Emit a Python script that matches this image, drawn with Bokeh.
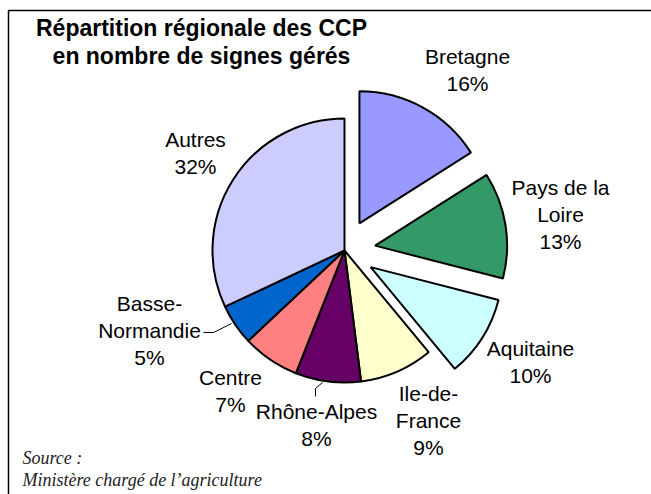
import math
from bokeh.plotting import figure
from bokeh.models import Range1d, ColumnDataSource
from bokeh.core.properties import value
from bokeh.embed import file_html
from bokeh.resources import INLINE

# ---- data ----
regions = ["Bretagne", "Pays de la Loire", "Aquitaine", "Ile-de-France",
           "Rhône-Alpes", "Centre", "Basse-Normandie", "Autres"]
shares = [16, 13, 10, 9, 8, 7, 5, 32]
label_lines = [["Bretagne", "16%"], ["Pays de la", "Loire", "13%"], ["Aquitaine", "10%"],
               ["Ile-de-", "France", "9%"], ["Rhône-Alpes", "8%"], ["Centre", "7%"],
               ["Basse-", "Normandie", "5%"], ["Autres", "32%"]]
title_lines = ["Répartition régionale des CCP", "en nombre de signes gérés"]
source_lines = ["Source :", "Ministère chargé de l\u2019agriculture"]

# ---- styles / layout ----
colors = ["#9999FF", "#339966", "#CCFFFF", "#FFFFCC", "#660066", "#FF8080", "#0066CC", "#CCCCFF"]
exploded = [True, True, True, False, False, False, False, False]
W, H = 651, 494
def px(x):  # page x -> data x
    return x
def py(y):  # page y -> data y
    return H - y

CX, CY, R, EXPLODE = px(344), py(250), 132, 31
# label anchors (page coords): center x, first baseline y
label_pos = [(467, 65), (560, 196), (530, 357), (428, 402), (316, 420), (230, 386), (149, 312), (195, 148)]
LSTEP = 27
# renderer baseline correction (px)
LAB_DY, TITLE_DY, SRC_DY = 9.5, 10, 7.5

p = figure(width=W, height=H, output_backend="svg", toolbar_location=None,
           x_range=Range1d(0, W), y_range=Range1d(0, H), min_border=0,
           background_fill_color="white", border_fill_color="white")
p.axis.visible = False
p.grid.visible = False
p.outline_line_color = None

# border (left & top visible, corner at top-left)
p.line(x=[px(8), px(8), px(W + 10)], y=[py(H + 10), py(10), py(10)],
       line_color="black", line_width=1.5)

# wedges
xs, ys, sa, ea = [], [], [], []
cum = 0
for v, ex in zip(shares, exploded):
    a0 = 90 - cum * 3.6
    a1 = a0 - v * 3.6
    mid = math.radians((a0 + a1) / 2)
    d = EXPLODE if ex else 0
    xs.append(CX + d * math.cos(mid))
    ys.append(CY + d * math.sin(mid))
    sa.append(math.radians(a1))
    ea.append(math.radians(a0))
    cum += v
src = ColumnDataSource(dict(x=xs, y=ys, sa=sa, ea=ea, color=colors))
p.wedge(x="x", y="y", radius=R, start_angle="sa", end_angle="ea", direction="anticlock",
        fill_color="color", line_color="black", line_width=2, source=src)

# labels
tx, ty, tt = [], [], []
for lines, (lx, ly) in zip(label_lines, label_pos):
    for i, t in enumerate(lines):
        tx.append(px(lx)); ty.append(py(ly + i * LSTEP - LAB_DY)); tt.append(t)
p.text(x=tx, y=ty, text=tt, text_font=value("Liberation Sans"), text_font_size="21px",
       text_align="center", text_baseline="alphabetic", text_color="black")

# leader lines
p.line(x=[px(203), px(213), px(231)], y=[py(332), py(332), py(323)], line_color="black", line_width=1)
p.line(x=[px(315), px(315), px(322)], y=[py(396), py(388), py(382)], line_color="black", line_width=1)

# title
p.text(x=[px(201)] * 2, y=[py(37 - TITLE_DY), py(65 - TITLE_DY)], text=title_lines,
       text_font=value("Liberation Sans"), text_font_size="23px", text_font_style="bold",
       text_align="center", text_baseline="alphabetic", text_color="black")

# source
p.text(x=[px(22)] * 2, y=[py(465 - SRC_DY), py(487 - SRC_DY)], text=source_lines,
       text_font=value("Liberation Serif"), text_font_size="18px", text_font_style="italic",
       text_align="left", text_baseline="alphabetic", text_color="#222222")

open("out.html", "w").write(file_html(p, INLINE))
